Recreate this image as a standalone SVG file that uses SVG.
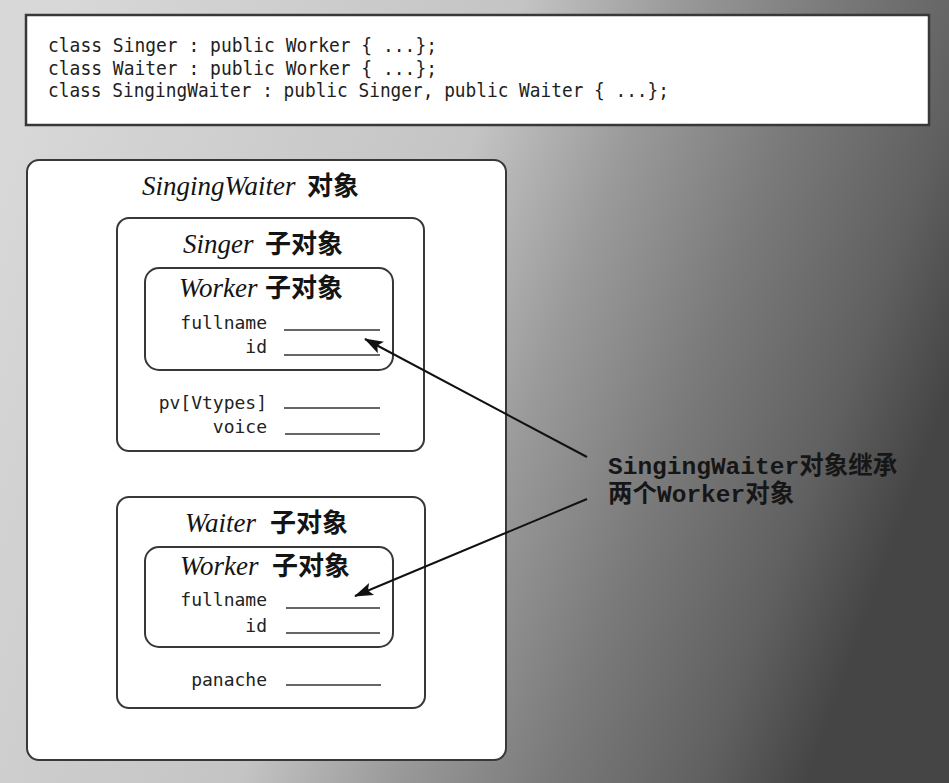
<svg xmlns="http://www.w3.org/2000/svg" width="949" height="783" viewBox="0 0 949 783">
<defs>
<linearGradient id="bg" x1="0" y1="0.2" x2="1" y2="0.5">
<stop offset="0" stop-color="#d8d8d8"/>
<stop offset="0.45" stop-color="#c4c4c4"/>
<stop offset="0.6" stop-color="#9a9a9a"/>
<stop offset="0.75" stop-color="#7a7a7a"/>
<stop offset="0.9" stop-color="#606060"/>
<stop offset="1" stop-color="#454545"/>
</linearGradient>
<marker id="ah" markerWidth="20" markerHeight="14" refX="18" refY="7" orient="auto" markerUnits="userSpaceOnUse">
<path d="M0,0.5 L19,7 L0,13.5 L4,7 z" fill="#111"/>
</marker>
<style>
.box{fill:#fff;stroke:#383838;stroke-width:2}
.code{font-family:"DejaVu Sans Mono","Liberation Mono",monospace;font-size:20px;fill:#1e1e1e}
.ttl{font-family:"Liberation Serif",serif;font-style:italic;font-size:27px;fill:#141414}
.cjk{font-family:"Noto Sans CJK SC",sans-serif;font-style:normal;font-weight:700;font-size:26px}
.fld{font-family:"DejaVu Sans Mono","Liberation Mono",monospace;font-size:18px;fill:#222;text-anchor:end}
.ul{stroke:#333;stroke-width:1.6}
.arr{stroke:#111;stroke-width:2;fill:none;marker-end:url(#ah)}
.note{font-family:"Liberation Mono","Noto Sans CJK SC",monospace;font-weight:700;font-size:24.5px;fill:#161616}
</style>
</defs>
<rect x="0" y="0" width="949" height="783" fill="url(#bg)"/>
<g id="code">
<rect class="box" x="26" y="15" width="903" height="110" style="stroke-width:2.5"/>
<text class="code" x="48" y="52" textLength="389" lengthAdjust="spacingAndGlyphs">class Singer : public Worker { ...};</text>
<text class="code" x="48" y="75" textLength="389" lengthAdjust="spacingAndGlyphs">class Waiter : public Worker { ...};</text>
<text class="code" x="48" y="97" textLength="621" lengthAdjust="spacingAndGlyphs">class SingingWaiter : public Singer, public Waiter { ...};</text>
</g>
<g id="singingwaiter">
<rect class="box" x="27" y="160" width="479" height="600" rx="12"/>
<text class="ttl" x="142" y="195">SingingWaiter <tspan class="cjk" x="307">对象</tspan></text>
</g>
<g id="singer">
<rect class="box" x="117" y="218" width="307" height="233" rx="12"/>
<text class="ttl" x="183" y="253">Singer <tspan class="cjk" x="265">子对象</tspan></text>
<text class="fld" x="267" y="409">pv[Vtypes]</text>
<line class="ul" x1="284" y1="408" x2="380" y2="408"/>
<text class="fld" x="267" y="433">voice</text>
<line class="ul" x1="285" y1="434" x2="380" y2="434"/>
</g>
<g id="worker1">
<rect class="box" x="145" y="268" width="248" height="102" rx="14"/>
<text class="ttl" x="179" y="297">Worker<tspan class="cjk" x="265">子对象</tspan></text>
<text class="fld" x="267" y="329">fullname</text>
<line class="ul" x1="284" y1="330" x2="380" y2="330"/>
<text class="fld" x="267" y="353">id</text>
<line class="ul" x1="284" y1="355" x2="380" y2="355"/>
</g>
<g id="waiter">
<rect class="box" x="117" y="497" width="308" height="211" rx="12"/>
<text class="ttl" x="185" y="532">Waiter <tspan class="cjk" x="270">子对象</tspan></text>
<text class="fld" x="267" y="686">panache</text>
<line class="ul" x1="286" y1="685" x2="381" y2="685"/>
</g>
<g id="worker2">
<rect class="box" x="145" y="547" width="248" height="100" rx="14"/>
<text class="ttl" x="180" y="575">Worker <tspan class="cjk" x="272">子对象</tspan></text>
<text class="fld" x="267" y="606">fullname</text>
<line class="ul" x1="286" y1="608" x2="380" y2="608"/>
<text class="fld" x="267" y="632">id</text>
<line class="ul" x1="286" y1="633" x2="380" y2="633"/>
</g>
<g id="connectors">
<line class="arr" x1="587" y1="457" x2="365" y2="339"/>
<line class="arr" x1="587" y1="499" x2="355" y2="596"/>
</g>
<g id="note">
<text class="note" x="608" y="474">SingingWaiter对象继承</text>
<text class="note" x="608" y="502">两个Worker对象</text>
</g>
</svg>
